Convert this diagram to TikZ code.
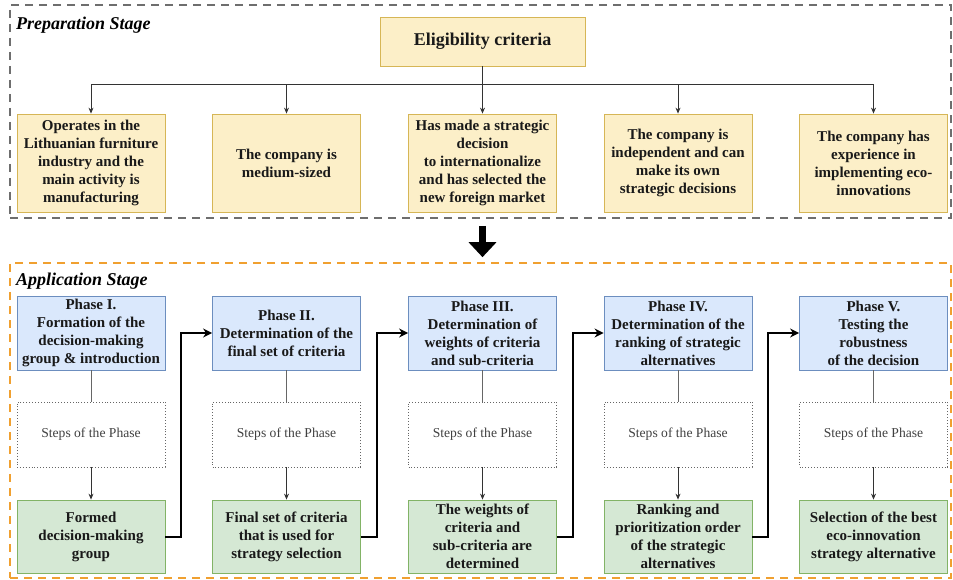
\documentclass[tikz,border=0pt]{standalone}
\usepackage{fontspec}
\setmainfont{Liberation Serif}
\usetikzlibrary{arrows.meta}

\definecolor{critfill}{HTML}{FCEFC8}
\definecolor{critdraw}{HTML}{D6B656}
\definecolor{phasefill}{HTML}{DAE8FC}
\definecolor{phasedraw}{HTML}{6C8EBF}
\definecolor{resfill}{HTML}{D5E8D4}
\definecolor{resdraw}{HTML}{82B366}
\definecolor{prepdash}{HTML}{6E6E6E}
\definecolor{appdash}{HTML}{F0A030}

\begin{document}
\begin{tikzpicture}[x=1pt,y=-1pt,
    box/.style={minimum width=148pt,align=center,inner sep=2pt,text=black!90,
        font=\fontsize{15}{18}\selectfont\bfseries},
    crit/.style={box,fill=critfill,draw=critdraw,line width=0.8pt,minimum height=98pt},
    phase/.style={box,fill=phasefill,draw=phasedraw,line width=0.8pt,minimum height=74pt},
    steps/.style={box,draw=black!60,dotted,line width=0.9pt,minimum height=65pt,
        font=\fontsize{13.6}{16}\selectfont,text=black!75},
    result/.style={box,fill=resfill,draw=resdraw,line width=0.8pt,minimum height=73pt},
    frame/.style={dash pattern=on 8pt off 6pt,line width=1.6pt},
    stagelabel/.style={anchor=north west,inner sep=0pt,font=\fontsize{18}{20}\selectfont\bfseries\itshape},
    thin/.style={draw=black!80,line width=0.8pt},
    tip/.style={thin,-{Stealth[length=6pt,width=5pt]}},
    phasearrow/.style={line width=2pt,-{Stealth[length=9pt,width=9pt]}}
]
\useasboundingbox (0,0) rectangle (953,580);

% stage frames
\node[frame,draw=prepdash,minimum width=941pt,minimum height=213pt] (prep) at (480.5,111.5) {};
\node[frame,draw=appdash,minimum width=941pt,minimum height=315pt] (app) at (480.5,420.5) {};
\node[stagelabel] (preplabel) at (16,17) {Preparation Stage};
\node[stagelabel] (applabel) at (16,273) {Application Stage};

% preparation stage
\node[crit,minimum width=205pt,minimum height=49pt,font=\fontsize{18}{20}\selectfont\bfseries] (elig) at (482.5,41.5) {Eligibility criteria};
\node[crit] (c1) at (91,163) {Operates in the\\Lithuanian furniture\\industry and the\\main activity is\\manufacturing};
\node[crit] (c2) at (286.5,163) {The company is\\medium-sized};
\node[crit] (c3) at (482.5,163) {Has made a strategic\\decision\\to internationalize\\and has selected the\\new foreign market};
\node[crit] (c4) at (678,163) {The company is\\independent and can\\make its own\\strategic decisions};
\node[crit] (c5) at (873.5,163) {The company has\\experience in\\implementing eco-\\innovations};

\coordinate (split) at (482.5,84);
\draw[thin] (elig.south) -- (split);
\foreach \c in {c1,c2,c3,c4,c5}
    \draw[tip] (split) -| (\c.north);

% stage arrow
\draw[line width=7pt,-{Triangle[length=15pt,width=27pt]},shorten <=7pt,shorten >=5pt]
    (prep.south -| elig.south) -- (app.north -| elig.south);

% application stage
\node[phase] (p1) at (91,333) {Phase I.\\Formation of the\\decision-making\\group \& introduction};
\node[phase] (p2) at (286.5,333) {Phase II.\\Determination of the\\final set of criteria};
\node[phase] (p3) at (482.5,333) {Phase III.\\Determination of\\weights of criteria\\and sub-criteria};
\node[phase] (p4) at (678,333) {Phase IV.\\Determination of the\\ranking of strategic\\alternatives};
\node[phase] (p5) at (873.5,333) {Phase V.\\Testing the\\robustness\\of the decision};

\foreach \i in {1,...,5}
    \node[steps] (s\i) at (p\i |- 0,434.5) {Steps of the Phase};

\node[result] (r1) at (91,536.5) {Formed\\decision-making\\group};
\node[result] (r2) at (286.5,536.5) {Final set of criteria\\that is used for\\strategy selection};
\node[result] (r3) at (482.5,536.5) {The weights of\\criteria and\\sub-criteria are\\determined};
\node[result] (r4) at (678,536.5) {Ranking and\\prioritization order\\of the strategic\\alternatives};
\node[result] (r5) at (873.5,536.5) {Selection of the best\\eco-innovation\\strategy alternative};

\foreach \i in {1,...,5} {
    \draw[thin,draw=black!60] (p\i.south) -- (s\i.north);
    \draw[tip] (s\i.south) -- (r\i.north);
}

% links between the phases
\foreach \i/\j in {1/2,2/3,3/4,4/5}
    \draw[phasearrow] (r\i.east) -- ++(16,0) |- (p\j.west);

\end{tikzpicture}
\end{document}
